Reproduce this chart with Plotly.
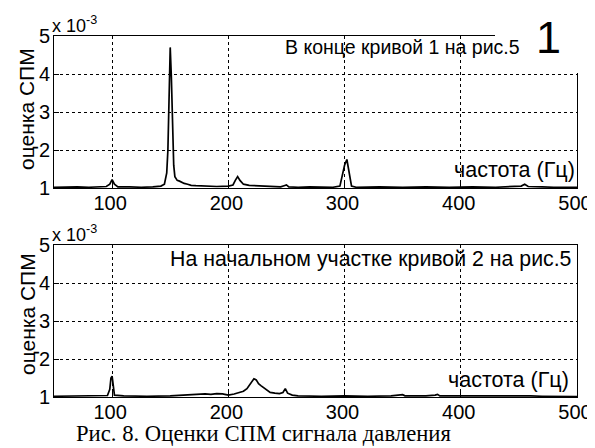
import plotly.graph_objects as go

# Top panel: spectrum estimate at end of curve 1 (values in units of 1e-3)
f_top = [50, 60, 70, 80, 90, 95, 98, 100, 102, 105, 115, 125, 135, 142, 145, 147, 148, 149, 150, 151,
         152, 153, 154, 156, 158, 160, 162, 165, 168, 172, 180, 190, 200, 204, 206, 208, 210, 213,
         218, 225, 235, 245, 248, 250, 252, 260, 270, 280, 290, 296, 298, 300, 302, 304, 306, 310,
         330, 350, 370, 390, 410, 430, 445, 452, 455, 458, 470, 480, 500]
s_top = [1.02, 1.03, 1.03, 1.02, 1.03, 1.04, 1.10, 1.22, 1.10, 1.03, 1.03, 1.02, 1.03, 1.05, 1.10, 1.40,
         2.00, 3.20, 4.70, 3.90, 2.50, 1.60, 1.30, 1.20, 1.18, 1.15, 1.12, 1.10, 1.07, 1.06, 1.05, 1.04,
         1.05, 1.08, 1.20, 1.30, 1.20, 1.10, 1.07, 1.06, 1.04, 1.03, 1.06, 1.08, 1.03, 1.02, 1.03, 1.02,
         1.02, 1.05, 1.30, 1.60, 1.75, 1.40, 1.05, 1.02, 1.03, 1.02, 1.03, 1.02, 1.03, 1.02, 1.03, 1.05,
         1.10, 1.04, 1.03, 1.02, 1.02]

# Bottom panel: spectrum estimate at initial section of curve 2
f_bot = [50, 70, 80, 90, 96, 98, 99, 100, 101, 102, 110, 130, 150, 160, 170, 180, 185, 190, 195, 200,
         205, 210, 213, 216, 218, 220, 222, 224, 226, 228, 230, 233, 236, 240, 244, 247, 249, 251, 255,
         260, 280, 300, 320, 340, 350, 352, 370, 378, 380, 382, 400, 420, 440, 460, 470, 480, 500]
s_bot = [1.02, 1.03, 1.04, 1.03, 1.04, 1.20, 1.50, 1.55, 1.30, 1.05, 1.03, 1.02, 1.03, 1.05, 1.06, 1.08,
         1.07, 1.09, 1.08, 1.05, 1.08, 1.12, 1.15, 1.22, 1.30, 1.38, 1.48, 1.45, 1.35, 1.30, 1.25, 1.18,
         1.12, 1.10, 1.09, 1.12, 1.22, 1.10, 1.05, 1.03, 1.02, 1.03, 1.02, 1.03, 1.06, 1.03, 1.03, 1.05,
         1.07, 1.03, 1.03, 1.04, 1.04, 1.03, 1.02, 1.02, 1.01]

x_ticks = [100, 200, 300, 400, 500]
y_ticks = [1, 2, 3, 4, 5]

# page body has an 8px default margin: size the figure so it fills the rest of the window
OFF = 8
W, H = 595 - OFF, 448 - OFF
def px(x):
    return (x - OFF) / W
def py(y):
    return 1 - (y - OFF) / H

SANS = "Liberation Sans, Arial"

fig = go.Figure()
fig.add_trace(go.Scatter(x=f_top, y=s_top, mode="lines", line=dict(color="black", width=1.7),
                         xaxis="x", yaxis="y", showlegend=False))
fig.add_trace(go.Scatter(x=f_bot, y=s_bot, mode="lines", line=dict(color="black", width=1.7),
                         xaxis="x2", yaxis="y2", showlegend=False))

tickfont = dict(family=SANS, size=20, color="black")
axis_common = dict(showline=True, linecolor="black", linewidth=1, mirror=True,
                   ticks="inside", ticklen=5, tickcolor="black",
                   showgrid=True, gridcolor="black", griddash="3px,3px", gridwidth=1,
                   zeroline=False, tickfont=tickfont, automargin=False, ticklabeloverflow="allow")

xd = [px(54), px(577)]
fig.update_layout(
    width=W, height=H, margin=dict(l=0, r=0, t=0, b=0, autoexpand=False),
    paper_bgcolor="white", plot_bgcolor="white",
    xaxis=dict(domain=xd, range=[50, 500], tickvals=x_ticks, anchor="y", ticklabelstandoff=-3,
               ticklabelshift=-2, **axis_common),
    yaxis=dict(domain=[py(188), py(36)], range=[1, 5], tickvals=y_ticks, anchor="x",
               ticklabelstandoff=-1, **axis_common),
    xaxis2=dict(domain=xd, range=[50, 500], tickvals=x_ticks, anchor="y2", ticklabelstandoff=-3,
                ticklabelshift=-2, **axis_common),
    yaxis2=dict(domain=[py(397), py(245)], range=[1, 5], tickvals=y_ticks, anchor="x2",
                ticklabelstandoff=-1, **axis_common),
)

# white patch covering the top-right corner of the upper box
fig.add_shape(type="rect", xref="paper", yref="paper", x0=px(495), x1=1, y0=py(73), y1=1,
              fillcolor="white", line=dict(width=0), layer="above")

txt = dict(family=SANS, color="black")
ann = [
    dict(x=px(27), y=py(109), text="оценка СПМ", textangle=-90, xanchor="center", yanchor="middle", font=dict(size=21, **txt)),
    dict(x=px(27), y=py(314), text="оценка СПМ", textangle=-90, xanchor="center", yanchor="middle", font=dict(size=21, **txt)),
    dict(x=px(50), y=py(25), text="x 10<sup>-3</sup>", xanchor="left", yanchor="middle", font=dict(size=18, **txt)),
    dict(x=px(50), y=py(233), text="x 10<sup>-3</sup>", xanchor="left", yanchor="middle", font=dict(size=18, **txt)),
    dict(x=px(522), y=py(47), text="В конце кривой 1 на рис.5", xanchor="right", yanchor="middle", font=dict(size=19.5, **txt)),
    dict(x=px(548), y=py(37), text="1", xanchor="center", yanchor="middle", font=dict(size=45, **txt)),
    dict(x=px(573), y=py(259), text="На начальном участке кривой 2 на рис.5", xanchor="right", yanchor="middle", font=dict(size=21.3, **txt)),
    dict(x=px(577), y=py(170), text="частота (Гц)", xanchor="right", yanchor="middle", font=dict(size=21.5, **txt)),
    dict(x=px(571), y=py(380), text="частота (Гц)", xanchor="right", yanchor="middle", font=dict(size=21.5, **txt)),
    dict(x=px(263), y=py(433), text="Рис. 8. Оценки СПМ сигнала давления", xanchor="center", yanchor="middle",
         font=dict(family="Liberation Serif, Times New Roman", size=22.7, color="black")),
]
for a in ann:
    fig.add_annotation(xref="paper", yref="paper", showarrow=False, **a)

fig.write_html("out.html")
